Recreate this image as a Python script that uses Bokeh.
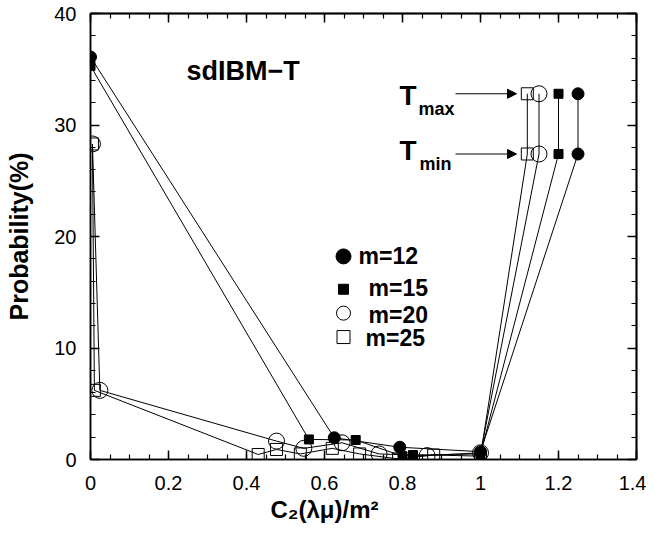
from bokeh.plotting import figure
from bokeh.models import (Label, Arrow, NormalHead, LinearAxis, FixedTicker,
                          Range1d, Title)
from bokeh.embed import file_html
from bokeh.resources import INLINE
import numpy as np

# ---------------- data ----------------
m12_x = [0.0, 0.625, 0.793, 1.0, 1.25, 1.25]
m12_y = [36.1, 1.95, 1.1, 0.7, 27.4, 32.8]

m15_x = [0.0, 0.56, 0.68, 0.80, 0.827, 1.0, 1.2, 1.2]
m15_y = [35.3, 1.8, 1.75, 0.3, 0.4, 0.5, 27.4, 32.8]

m20_x = [0.005, 0.024, 0.477, 0.547, 0.645, 0.74, 0.863, 1.0, 1.15, 1.15]
m20_y = [28.3, 6.2, 1.65, 1.0, 1.5, 0.5, 0.35, 0.6, 27.4, 32.8]

m25_x = [0.005, 0.01, 0.43, 0.477, 0.538, 0.62, 0.69, 0.79, 0.88, 1.0, 1.12, 1.12]
m25_y = [28.3, 6.2, 0.45, 0.9, 0.5, 1.0, 0.5, 0.05, 0.4, 0.3, 27.4, 32.8]

series_labels = ["m=12", "m=15", "m=20", "m=25"]

x_ticks = [0, 0.2, 0.4, 0.6, 0.8, 1, 1.2, 1.4]
x_tick_labels = ["0", "0.2", "0.4", "0.6", "0.8", "1", "1.2", "1.4"]
y_ticks = [0, 10, 20, 30, 40]
y_tick_labels = ["0", "10", "20", "30", "40"]

# ---------------- figure ----------------
FONT = "Liberation Sans"
FL, FT, FW, FH = 90, 13, 546, 446          # frame left/top/width/height (px)
p = figure(frame_width=FW, frame_height=FH,
           x_range=Range1d(0, 1.4), y_range=Range1d(0, 40),
           output_backend="svg", toolbar_location=None,
           min_border_left=FL, min_border_right=10,
           min_border_top=FT, min_border_bottom=70)
p.grid.visible = False
p.outline_line_color = "black"
p.outline_line_width = 1.5
p.background_fill_color = "white"
p.border_fill_color = "white"

x_minor = np.round(np.arange(0, 1.4001, 0.05), 2).tolist()
y_minor = list(range(0, 41, 2))


def style_axis(ax, tick_in_major=9, tick_in_minor=5):
    ax.axis_line_color = "black"
    ax.axis_line_width = 1.5
    ax.major_tick_in = tick_in_major
    ax.major_tick_out = 0
    ax.minor_tick_in = tick_in_minor
    ax.minor_tick_out = 0
    ax.major_tick_line_color = "black"
    ax.major_tick_line_width = 1.5
    ax.minor_tick_line_color = "black"
    ax.minor_tick_line_width = 1.2


p.xaxis.ticker = FixedTicker(ticks=x_ticks, minor_ticks=x_minor)
p.yaxis.ticker = FixedTicker(ticks=y_ticks, minor_ticks=y_minor)
p.xaxis.major_label_overrides = dict(zip(x_ticks, x_tick_labels))
p.yaxis.major_label_overrides = dict(zip(y_ticks, y_tick_labels))
for ax, so in ((p.xaxis[0], 16), (p.yaxis[0], 14)):
    style_axis(ax)
    ax.major_label_text_font = FONT
    ax.major_label_text_font_size = "20px"
    ax.major_label_text_color = "black"
    ax.major_label_standoff = so
p.xaxis.axis_label = None
p.yaxis.axis_label = "Probability(%)"
p.yaxis.axis_label_text_font = FONT
p.yaxis.axis_label_text_font_style = "bold"
p.yaxis.axis_label_text_font_size = "25px"
p.yaxis.axis_label_text_color = "black"
p.yaxis.axis_label_standoff = 18

# x-axis title (placed in the panel below the axis so it is not clipped)
p.add_layout(Title(text="C\u2082(\u03bb\u03bc)/m\u00b2", align="left",
                   offset=270 - FL, standoff=3,
                   text_font=FONT, text_font_style="bold",
                   text_font_size="24px", text_color="black"), "below")

# mirrored ticks on top and right (no labels: ticks drawn as "minor" ticks)
for side, majors, minors in (("above", x_ticks, x_minor),
                             ("right", y_ticks, y_minor)):
    for pos, length in ((majors, 9), (minors, 5)):
        ax = LinearAxis(ticker=FixedTicker(ticks=[], minor_ticks=pos))
        style_axis(ax, 0, length)
        ax.major_label_standoff = 0
        ax.axis_label_standoff = 0
        ax.minor_tick_line_width = 1.5 if length == 9 else 1.2
        p.add_layout(ax, side)

# ---------------- series ----------------
specs = [
    (m12_x, m12_y, "circle", 12, "black"),
    (m15_x, m15_y, "square", 9, "black"),
    (m20_x, m20_y, "circle", 16, None),
    (m25_x, m25_y, "square", 12, None),
]
for xs, ys, mk, sz, fill in specs:
    p.line(xs, ys, line_color="black", line_width=1)
for xs, ys, mk, sz, fill in specs:
    p.scatter(xs, ys, marker=mk, size=sz, line_color="black",
              line_width=1, fill_color=fill)


# ---------------- annotations ----------------
def dx(px):
    # reference picture pixel -> data x
    return (px - 90) / 390.0


def dy(py):
    # reference picture pixel -> data y
    return (459 - py) / 11.2


def lab(text, px, py_base, size):
    # py_base: baseline in reference pixels; drawn with middle baseline
    fs = float(size.rstrip("px"))
    p.add_layout(Label(x=dx(px), y=dy(py_base - 0.35 * fs), text=text,
                       text_font=FONT, text_font_size=size,
                       text_font_style="bold", text_color="black",
                       text_baseline="middle", text_align="left"))


lab("sdIBM\u2212T", 186, 78, "27px")

lab("T", 399, 103, "28px")
lab("max", 418, 113, "18px")
lab("T", 399, 158, "28px")
lab("min", 419, 168, "18px")

for yy in (m12_y[-1], m12_y[-2]):
    p.add_layout(Arrow(x_start=dx(455), y_start=yy, x_end=dx(516), y_end=yy,
                       line_color="black", line_width=1,
                       end=NormalHead(size=9, fill_color="black",
                                      line_color="black")))

# legend keys
key_rows = [(255, 263, 358), (288, 295, 368), (312, 322, 368), (336, 345, 365)]
key_sizes = [15, 10, 14, 13]
for (mk_py, txt_py, txt_px), (xs, ys, mk, sz, fill), ksz, text in zip(
        key_rows, specs, key_sizes, series_labels):
    p.scatter([dx(343)], [dy(mk_py)], marker=mk, size=ksz,
              line_color="black", line_width=1, fill_color=fill)
    lab(text, txt_px, txt_py, "23px")

open("out.html", "w").write(file_html(p, INLINE))
